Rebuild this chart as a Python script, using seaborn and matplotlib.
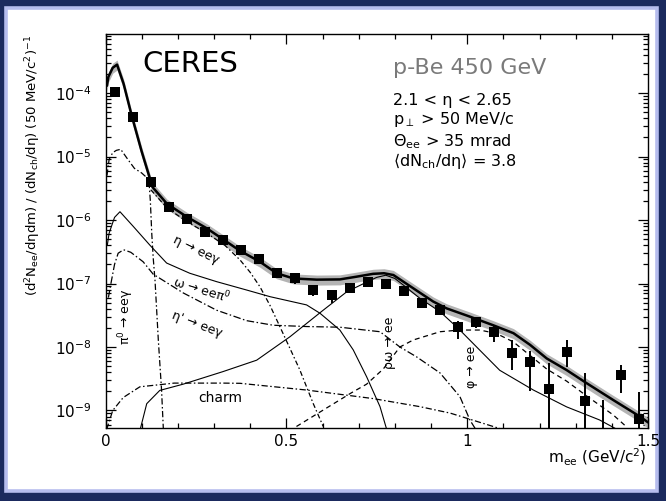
import numpy as np
import pandas as pd
import matplotlib
matplotlib.use("Agg")
import matplotlib.pyplot as plt
import seaborn as sns
from matplotlib.patches import Rectangle
from matplotlib.ticker import FixedLocator, MultipleLocator, LogLocator, NullFormatter, FixedFormatter

# ---------------- data ----------------
data_m = [0.025, 0.075, 0.125, 0.175, 0.225, 0.275, 0.325, 0.375, 0.425, 0.475,
          0.525, 0.575, 0.625, 0.675, 0.725, 0.775, 0.825, 0.875, 0.925, 0.975,
          1.025, 1.075, 1.125, 1.175, 1.225, 1.275, 1.325, 1.375, 1.425, 1.475]
data_y = [1.05e-4, 4.2e-5, 4.0e-6, 1.62e-6, 1.03e-6, 6.5e-7, 4.8e-7, 3.4e-7, 2.4e-7, 1.45e-7,
          1.21e-7, 7.9e-8, 6.6e-8, 8.4e-8, 1.07e-7, 1.0e-7, 7.7e-8, 5.0e-8, 3.8e-8, 2.04e-8,
          2.5e-8, 1.74e-8, 7.9e-9, 5.8e-9, 2.15e-9, 8.4e-9, 1.43e-9, 3.0e-10, 3.6e-9, 7.3e-10]
data_lo = [0.92e-4, 3.8e-5, 3.6e-6, 1.45e-6, 0.92e-6, 5.8e-7, 4.2e-7, 3.0e-7, 2.0e-7, 1.2e-7,
           1.0e-7, 6.3e-8, 5.0e-8, 7.0e-8, 9.3e-8, 8.8e-8, 6.7e-8, 4.3e-8, 3.2e-8, 1.35e-8,
           2.0e-8, 1.2e-8, 4.4e-9, 2.0e-9, 1e-12, 4.9e-9, 1e-12, 1e-12, 1.86e-9, 1e-12]
data_hi = [1.15e-4, 4.6e-5, 4.4e-6, 1.8e-6, 1.14e-6, 7.2e-7, 5.4e-7, 3.8e-7, 2.8e-7, 1.7e-7,
           1.4e-7, 9.4e-8, 8.0e-8, 9.8e-8, 1.2e-7, 1.12e-7, 8.7e-8, 5.7e-8, 4.4e-8, 2.6e-8,
           3.0e-8, 2.2e-8, 1.29e-8, 8.5e-9, 5.5e-9, 1.29e-8, 3.85e-9, 1.47e-9, 5.2e-9, 1.98e-9]

total_m = [0.004, 0.008, 0.02, 0.032, 0.05, 0.072, 0.1, 0.13, 0.17, 0.224, 0.28, 0.371, 0.427,
           0.473, 0.52, 0.584, 0.648, 0.694, 0.74, 0.77, 0.796, 0.851, 0.906, 0.943, 1.008,
           1.072, 1.128, 1.174, 1.22, 1.275, 1.33, 1.404, 1.478, 1.5]
total_y = [1.3e-4, 1.8e-4, 2.5e-4, 2.8e-4, 1.4e-4, 4.5e-5, 1.2e-5, 3.3e-6, 1.8e-6, 1.13e-6, 7.4e-7,
           3.3e-7, 2.2e-7, 1.45e-7, 1.2e-7, 1.15e-7, 1.16e-7, 1.28e-7, 1.42e-7, 1.45e-7, 1.36e-7,
           8.4e-8, 5.2e-8, 4.06e-8, 3.0e-8, 2.2e-8, 1.65e-8, 1.08e-8, 6.6e-9, 4.33e-9, 2.7e-9,
           1.46e-9, 8.0e-10, 6.5e-10]

pi0_m = [0.004, 0.01, 0.02, 0.03, 0.042, 0.06, 0.08, 0.1, 0.115, 0.121, 0.124, 0.128, 0.132,
         0.137, 0.146, 0.155, 0.16, 0.163]
pi0_y = [5e-6, 9e-6, 1.15e-5, 1.25e-5, 1.3e-5, 9.3e-6, 6.5e-6, 5.5e-6, 4.6e-6, 3.5e-6, 2e-6,
         6e-7, 2.5e-7, 1.1e-7, 1.3e-8, 2.1e-9, 5e-10, 3e-10]

eta_m = [0.125, 0.17, 0.224, 0.28, 0.33, 0.372, 0.4, 0.427, 0.455, 0.482, 0.51, 0.537, 0.574, 0.602]
eta_y = [3.0e-6, 1.55e-6, 9.5e-7, 6.2e-7, 4.0e-7, 2.35e-7, 1.5e-7, 8.9e-8, 4.5e-8, 2.1e-8,
         9.5e-9, 4.4e-9, 1.3e-9, 5.6e-10]

omd_m = [0.005, 0.01, 0.025, 0.04, 0.077, 0.123, 0.169, 0.233, 0.307, 0.39, 0.455, 0.556,
         0.593, 0.648, 0.685, 0.722, 0.759, 0.78]
omd_y = [4e-7, 6.2e-7, 1.1e-6, 1.35e-6, 7.9e-7, 4.0e-7, 2.1e-7, 1.45e-7, 1.07e-7, 7.9e-8, 6.2e-8,
         4.6e-8, 3.4e-8, 1.85e-8, 9e-9, 3.4e-9, 1.15e-9, 4.5e-10]

etap_m = [0.008, 0.015, 0.025, 0.035, 0.05, 0.07, 0.104, 0.132, 0.215, 0.307, 0.39, 0.464,
          0.556, 0.648, 0.759, 0.814, 0.86, 0.925, 0.98, 1.008, 1.026]
etap_y = [6e-8, 1.0e-7, 2.0e-7, 3.0e-7, 3.4e-7, 3.1e-7, 2.2e-7, 1.4e-7, 7.1e-8, 3.8e-8, 2.6e-8,
          2.2e-8, 2.1e-8, 2.05e-8, 1.74e-8, 1.0e-8, 7e-9, 3.9e-9, 1.65e-9, 7e-10, 4.8e-10]

rho_m = [0.095, 0.114, 0.15, 0.215, 0.325, 0.418, 0.51, 0.602, 0.667, 0.722, 0.75, 0.775, 0.8,
         0.823, 0.87, 0.925, 0.975, 1.035, 1.09, 1.183, 1.275, 1.366, 1.41]
rho_y = [4.8e-10, 1.28e-9, 2.07e-9, 2.6e-9, 4.1e-9, 6.2e-9, 1.45e-8, 3.8e-8, 7.4e-8, 1.05e-7,
         1.25e-7, 1.35e-7, 1.2e-7, 9.5e-8, 5.8e-8, 3.6e-8, 1.97e-8, 8.9e-9, 4.3e-9, 2.1e-9,
         1.14e-9, 7.1e-10, 5.2e-10]

phi_m = [0.528, 0.6, 0.68, 0.722, 0.768, 0.814, 0.851, 0.925, 0.98, 1.035, 1.081, 1.128,
         1.22, 1.275, 1.33, 1.404, 1.441]
phi_y = [5.6e-10, 1.0e-9, 1.9e-9, 2.6e-9, 4.5e-9, 1.0e-8, 1.29e-8, 1.74e-8, 1.85e-8, 1.85e-8,
         1.63e-8, 1.2e-8, 4.5e-9, 2.9e-9, 1.7e-9, 8.5e-10, 5.5e-10]

charm_m = [0.003, 0.02, 0.049, 0.095, 0.19, 0.325, 0.372, 0.556, 0.74, 0.869, 0.953, 1.09, 1.12]
charm_y = [5e-10, 1.0e-9, 1.6e-9, 2.36e-9, 2.7e-9, 2.7e-9, 2.68e-9, 2.1e-9, 1.54e-9, 1.15e-9,
           9.1e-10, 5.2e-10, 4.5e-10]

band_lo_factor = 0.82
band_hi_factor = 1.18

x_ticks = [0, 0.5, 1, 1.5]
x_ticklabels = ["0", "0.5", "1", "1.5"]
y_ticks = [1e-9, 1e-8, 1e-7, 1e-6, 1e-5, 1e-4]

# ---------------- style ----------------
sns.set_style("ticks")
plt.rcParams["font.family"] = ["DejaVu Sans"]
plt.rcParams["mathtext.default"] = "regular"
plt.rcParams["text.color"] = "black"
plt.rcParams["axes.labelcolor"] = "black"
plt.rcParams["xtick.color"] = "black"
plt.rcParams["ytick.color"] = "black"

W, H = 666, 501
fig = plt.figure(figsize=(W / 100, H / 100), dpi=100)
fig.patch.set_facecolor("#1b2a5e")
fig.add_artist(Rectangle((5.5 / W, 1 - 491 / H), (657 - 5.5) / W, (491 - 7.5) / H,
                         transform=fig.transFigure, facecolor="white",
                         edgecolor="#b6bdee", linewidth=2.6, zorder=-10))

ax = fig.add_axes([105.5 / W, 1 - 428 / H, (648 - 105.5) / W, (428 - 34) / H])
ax.set_facecolor("white")
ax.set_yscale("log")
ax.set_xlim(0, 1.5)
ax.set_ylim(5.3e-10, 8.5e-4)

# band around total
tm = np.array(total_m)
ty = np.array(total_y)
ax.fill_between(tm, ty * band_lo_factor, ty * band_hi_factor, color="#b4b4b4", lw=0, zorder=1)

def curve(m, y, ls, lw=0.9, z=3):
    df = pd.DataFrame({"m": m, "y": y})
    sns.lineplot(data=df, x="m", y="y", ax=ax, color="black", linewidth=lw,
                 linestyle=ls, sort=False, errorbar=None, zorder=z)

curve(total_m, total_y, "-", lw=1.8, z=4)
curve(pi0_m, pi0_y, (0, (5, 2, 1.2, 2)))
curve(eta_m, eta_y, (0, (4, 2, 1.2, 2)))
curve(omd_m, omd_y, "-", lw=0.8)
curve(etap_m, etap_y, (0, (6, 2, 1.2, 2)))
curve(rho_m, rho_y, "-", lw=0.8)
curve(phi_m, phi_y, (0, (4, 3)))
curve(charm_m, charm_y, (0, (5, 2, 1.2, 2)))

dm = np.array(data_m)
dy = np.array(data_y)
yerr = [dy - np.array(data_lo), np.array(data_hi) - dy]
ax.errorbar(dm, dy, yerr=yerr, fmt="none", ecolor="black", elinewidth=1.4, capsize=0, zorder=5)
sns.scatterplot(x=dm, y=dy, ax=ax, marker="s", s=62, color="black", edgecolor="black",
                linewidth=0, zorder=6)

# axes styling
for s in ax.spines.values():
    s.set_linewidth(1.0)
    s.set_color("black")
ax.xaxis.set_major_locator(FixedLocator(x_ticks))
ax.xaxis.set_major_formatter(FixedFormatter(x_ticklabels))
ax.xaxis.set_minor_locator(MultipleLocator(0.1))
ax.yaxis.set_major_locator(FixedLocator(y_ticks))
ax.yaxis.set_minor_locator(LogLocator(base=10, subs=np.arange(2, 10)))
ax.yaxis.set_minor_formatter(NullFormatter())
ax.tick_params(which="both", direction="in", top=True, right=True, width=0.9,
               colors="black", labelcolor="black")
ax.tick_params(which="major", length=7)
ax.tick_params(which="minor", length=3.5)
ax.tick_params(axis="x", which="major", labelsize=11, pad=4)
ax.tick_params(axis="y", which="major", labelsize=11, pad=10)
ax.set_xlabel("")
ax.set_ylabel("")

# axis titles
fig.text(33 / W, 1 - 165 / H,
         r"(d$^2$N$_{ee}$/dηdm) / (dN$_{ch}$/dη) (50 MeV/c$^2$)$^{-1}$",
         rotation=90, ha="center", va="center", fontsize=9.5, color="black")
fig.text(647 / W, 1 - 457 / H, r"m$_{ee}$ (GeV/c$^2$)", ha="right", va="center",
         fontsize=11, color="black")

# texts in the plot
def ftext(x, y, s, **kw):
    kw.setdefault("color", "black")
    fig.text(x / W, 1 - y / H, s, **kw)

ftext(142, 72, "CERES", fontsize=21, va="baseline", ha="left")
ftext(393, 74, "p-Be 450 GeV", fontsize=16, va="baseline", ha="left", color="#7a7a7a")
ftext(393, 105, "2.1 < η < 2.65", fontsize=11.5, va="baseline", ha="left")
ftext(393, 124, r"p$_\perp$ > 50 MeV/c", fontsize=11.5, va="baseline", ha="left")
ftext(393, 146, r"$\Theta_{ee}$ > 35 mrad", fontsize=11.5, va="baseline", ha="left")
ftext(393, 166, r"$\langle$dN$_{ch}$/dη$\rangle$ = 3.8", fontsize=11.5, va="baseline", ha="left")

ftext(196, 250, "η → eeγ", fontsize=9, rotation=-26, ha="center", va="center")
ftext(202, 290, r"ω → eeπ$^0$", fontsize=9, rotation=-17, ha="center", va="center")
ftext(197, 324, "η' → eeγ", fontsize=9, rotation=-21, ha="center", va="center")
ftext(126, 317, r"π$^0$ → eeγ", fontsize=9, rotation=90, ha="center", va="center")
ftext(220, 398, "charm", fontsize=10, ha="center", va="center")
ftext(389, 343, "ρω → ee", fontsize=9, rotation=90, ha="center", va="center")
ftext(471, 367, "φ → ee", fontsize=9, rotation=90, ha="center", va="center")

fig.savefig("out.png", dpi=100, facecolor=fig.get_facecolor())
